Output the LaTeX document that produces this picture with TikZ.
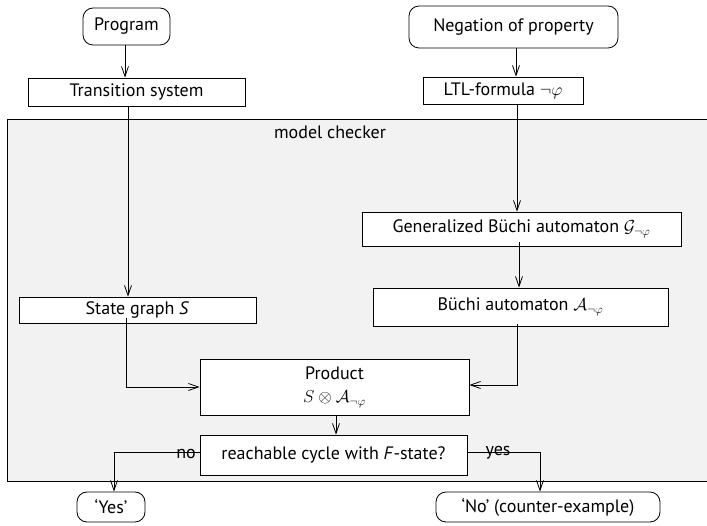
\documentclass[tikz,border=0pt]{standalone}
\usepackage{fontspec}
\setmainfont{PT Sans}
\usetikzlibrary{arrows.meta}
\begin{document}
\begin{tikzpicture}[x=1pt,y=-1pt,
  every node/.style={font=\fontsize{18}{21}\selectfont},
  box/.style={draw, fill=white, line width=0.8pt, inner sep=0pt, anchor=center},
  rbox/.style={box, rounded corners=10pt},
  arr/.style={line width=0.8pt, -{Straight Barb[length=10pt,width=7pt,line width=0.8pt]}},
  ln/.style={line width=0.8pt}]
\useasboundingbox (0,0) rectangle (707,526);
\fill[white] (0,0) rectangle (707,526);
\draw[line width=0.9pt, fill={rgb,255:red,242;green,242;blue,242}] (710,119) -- (7,119) -- (7,481) -- (710,481);
\node[anchor=center] (mc) at (330,132) {model checker};

\node[rbox, minimum width=87pt, minimum height=37pt] (prog) at (126.5,26.5) {Program};
\node[box, minimum width=217pt, minimum height=28pt] (ts) at (136.5,92) {Transition system};
\node[rbox, minimum width=209pt, minimum height=42pt] (neg) at (513.5,27) {Negation of property};
\node[box, minimum width=160pt, minimum height=27pt] (ltl) at (503,90.5) {LTL-formula $\neg\varphi$};
\node[box, minimum width=319pt, minimum height=34pt] (gba) at (521.5,229) {Generalized Büchi automaton $\mathcal{G}_{\neg\varphi}$};
\node[box, minimum width=295pt, minimum height=38pt] (ba) at (520.5,307) {Büchi automaton $\mathcal{A}_{\neg\varphi}$};
\node[box, minimum width=237pt, minimum height=26pt] (sg) at (137.5,310) {State graph \textit{S}};
\node[box, minimum width=269pt, minimum height=56pt, align=center] (prod) at (334.5,387) {Product\\[2pt]$S\otimes\mathcal{A}_{\neg\varphi}$};
\node[box, minimum width=267pt, minimum height=40pt] (reach) at (333.5,455) {reachable cycle with \textit{F}-state?};
\node[rbox, minimum width=68pt, minimum height=30pt] (yes) at (111,507) {‘Yes’};
\node[rbox, minimum width=224pt, minimum height=30pt] (no) at (548,507) {‘No’ (counter-example)};

\draw[arr] (prog.south -| 125,0) -- (ts.north -| 125,0);
\draw[arr] (neg.south -| 516,0) -- (ltl.north -| 516,0);
\draw[arr] (ts.south -| 128,0) -- (sg.north -| 128,0);
\draw[arr] (ltl.south -| 517,0) -- (gba.north -| 517,0);
\draw[arr] ([yshift=4pt]gba.south -| 519,0) -- (ba.north -| 519,0);
\draw[arr] ([yshift=5pt]sg.south -| 126,0) |- (prod.west |- 0,387) coordinate (pl);
\draw[arr] ([yshift=2pt]ba.south -| 517,0) |- (prod.east |- 0,385) coordinate (pr);
\draw[arr] (prod.south -| 336,0) -- (reach.north -| 336,0);
\draw[arr] (reach.west |- 0,452) -| (yes.north -| 114,0);
\draw[arr] (reach.east |- 0,452) -| (no.north -| 540,0);
\node[anchor=center] (nolab) at (186,453.5) {no};
\node[anchor=center] (yeslab) at (498,452.5) {yes};
\end{tikzpicture}
\end{document}
